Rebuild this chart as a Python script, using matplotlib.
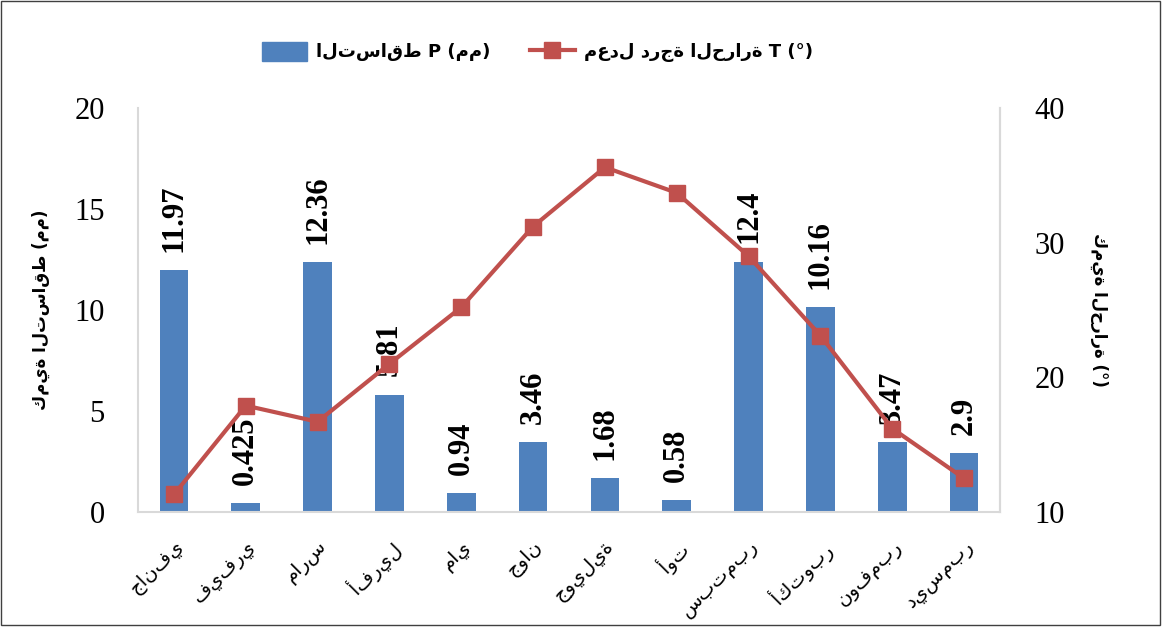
import matplotlib
matplotlib.use("Agg")
import matplotlib.pyplot as plt
import numpy as np
from matplotlib.patches import Rectangle, Patch
from matplotlib.lines import Line2D

months = ["جانفي", "فيفري", "مارس", "أفريل", "ماي", "جوان",
          "جويلية", "أوت", "سبتمبر", "أكتوبر", "نوفمبر", "ديسمبر"]
precip = [11.97, 0.425, 12.36, 5.81, 0.94, 3.46, 1.68, 0.58, 12.4, 10.16, 3.47, 2.9]
precip_labels = ["11.97", "0.425", "12.36", "5.81", "0.94", "3.46", "1.68", "0.58", "12.4", "10.16", "3.47", "2.9"]
temp = [11.3, 17.9, 16.7, 21.0, 25.2, 31.2, 35.6, 33.7, 29.0, 23.1, 16.2, 12.5]
left_ticks = [0, 5, 10, 15, 20]
right_ticks = [10, 20, 30, 40]

arabic_font = ["DejaVu Sans"]
serif = ["Liberation Serif", "DejaVu Serif"]

fig = plt.figure(figsize=(11.63, 6.30), dpi=100)
ax = fig.add_axes([138/1163, 1-512/630, (1000-138)/1163, (512-108)/630])
x = np.arange(len(months))
ax.bar(x, precip, width=0.4, color="#4F81BD", zorder=2)
ax.set_xlim(-0.5, len(months)-0.5)
ax.set_ylim(0, 20)
ax.set_yticks(left_ticks)
ax.set_yticklabels([str(t) for t in left_ticks], fontfamily=serif, fontsize=22)
ax.tick_params(axis="y", length=0, pad=24)
ax.tick_params(axis="x", length=0, pad=18)
ax.set_xticks(x)
ax.set_xticklabels(months, rotation=45, ha="right", rotation_mode="anchor",
                   fontfamily=arabic_font, fontsize=14)
ax.spines["top"].set_visible(False)
for s in ["left", "right", "bottom"]:
    ax.spines[s].set_color("#D9D9D9")
    ax.spines[s].set_linewidth(1.5)

for xi, v, lab in zip(x, precip, precip_labels):
    ax.text(xi, v + 0.9, lab, rotation=90, ha="center", va="bottom",
            fontfamily=serif, fontsize=22, fontweight="bold", zorder=5)

ax2 = ax.twinx()
ax2.plot(x, temp, color="#C0504D", lw=3, marker="s", markersize=12,
         markerfacecolor="#C0504D", markeredgecolor="#C0504D", zorder=4)
ax2.set_ylim(10, 40)
ax2.set_yticks(right_ticks)
ax2.set_yticklabels([str(t) for t in right_ticks], fontfamily=serif, fontsize=22)
ax2.tick_params(axis="y", length=0, pad=25)
for s in ["top", "left", "bottom"]:
    ax2.spines[s].set_visible(False)
ax2.spines["right"].set_color("#D9D9D9")
ax2.spines["right"].set_linewidth(1.5)

ax.set_ylabel("كمية التساقط (مم)", fontfamily=arabic_font, fontsize=12, fontweight="bold")
ax.yaxis.set_label_coords(-0.102, 0.5)
ax2.set_ylabel("كمية الحرارة (°)", fontfamily=arabic_font, fontsize=12, fontweight="bold",
               rotation=270, va="bottom")
ax2.yaxis.set_label_coords(1.104, 0.5)

h1 = Patch(color="#4F81BD")
h2 = Line2D([0], [0], color="#C0504D", lw=3, marker="s", markersize=12)
fig.legend([h1, h2], ["التساقط P (مم)", "معدل درجة الحرارة T (°)"],
           loc="center", bbox_to_anchor=(0.462, 1-52/630), ncol=2, frameon=False,
           prop={"family": arabic_font, "size": 13, "weight": "bold"},
           columnspacing=2.2, handlelength=2.5, handleheight=1.3, handletextpad=0.5)

fig.patches.append(Rectangle((0.001, 0.008), 0.996, 0.99, transform=fig.transFigure,
                             fill=False, edgecolor="#404040", lw=1))
fig.savefig("out.png", dpi=100)
